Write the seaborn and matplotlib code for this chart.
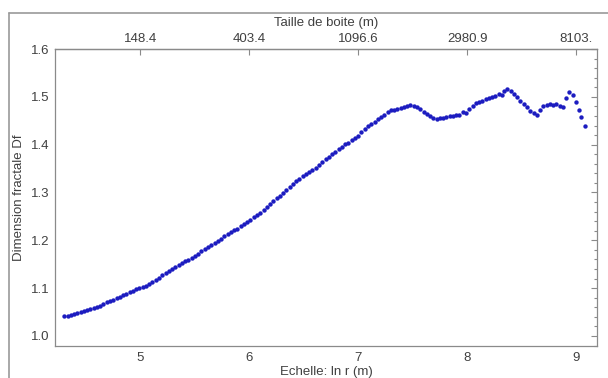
import numpy as np
import pandas as pd
import matplotlib
matplotlib.use("Agg")
import matplotlib.pyplot as plt
from matplotlib.ticker import MultipleLocator, FormatStrFormatter
from matplotlib.lines import Line2D
import seaborn as sns

# values (ln r, fractal dimension)
ln_r = [4.30, 4.33, 4.36, 4.39, 4.42, 4.45, 4.48, 4.51, 4.54, 4.57,
        4.60, 4.63, 4.66, 4.69, 4.72, 4.75, 4.78, 4.81, 4.84, 4.87,
        4.90, 4.93, 4.96, 4.99, 5.02, 5.05, 5.08, 5.11, 5.14, 5.17,
        5.20, 5.23, 5.26, 5.29, 5.32, 5.35, 5.38, 5.41, 5.44, 5.47,
        5.50, 5.53, 5.56, 5.59, 5.62, 5.65, 5.68, 5.71, 5.74, 5.77,
        5.80, 5.83, 5.86, 5.89, 5.92, 5.95, 5.98, 6.01, 6.04, 6.07,
        6.10, 6.13, 6.16, 6.19, 6.22, 6.25, 6.28, 6.31, 6.34, 6.37,
        6.40, 6.43, 6.46, 6.49, 6.52, 6.55, 6.58, 6.61, 6.64, 6.67,
        6.70, 6.73, 6.76, 6.79, 6.82, 6.85, 6.88, 6.91, 6.94, 6.97,
        7.00, 7.03, 7.06, 7.09, 7.12, 7.15, 7.18, 7.21, 7.24, 7.27,
        7.30, 7.33, 7.36, 7.39, 7.42, 7.45, 7.48, 7.51, 7.54, 7.57,
        7.60, 7.63, 7.66, 7.69, 7.72, 7.75, 7.78, 7.81, 7.84, 7.87,
        7.90, 7.93, 7.96, 7.99, 8.02, 8.05, 8.08, 8.11, 8.14, 8.17,
        8.20, 8.23, 8.26, 8.29, 8.32, 8.34, 8.37, 8.40, 8.43, 8.46,
        8.49, 8.52, 8.55, 8.58, 8.61, 8.64, 8.67, 8.70, 8.73, 8.76,
        8.79, 8.82, 8.85, 8.88, 8.91, 8.94, 8.97, 9.00, 9.03, 9.05,
        9.08]
df_vals = [1.042, 1.042, 1.044, 1.046, 1.048, 1.050, 1.052, 1.055, 1.057, 1.058,
           1.060, 1.063, 1.066, 1.070, 1.073, 1.076, 1.079, 1.082, 1.085, 1.088,
           1.091, 1.095, 1.098, 1.100, 1.102, 1.105, 1.108, 1.112, 1.117, 1.122,
           1.127, 1.131, 1.136, 1.141, 1.145, 1.149, 1.153, 1.156, 1.159, 1.163,
           1.168, 1.172, 1.177, 1.181, 1.186, 1.190, 1.194, 1.199, 1.203, 1.208,
           1.213, 1.217, 1.221, 1.224, 1.229, 1.234, 1.238, 1.243, 1.248, 1.253,
           1.258, 1.264, 1.270, 1.276, 1.282, 1.288, 1.293, 1.299, 1.305, 1.311,
           1.318, 1.323, 1.329, 1.334, 1.338, 1.343, 1.347, 1.352, 1.357, 1.363,
           1.369, 1.375, 1.380, 1.385, 1.390, 1.396, 1.401, 1.404, 1.409, 1.413,
           1.419, 1.426, 1.433, 1.438, 1.443, 1.447, 1.453, 1.458, 1.463, 1.468,
           1.472, 1.473, 1.474, 1.476, 1.478, 1.481, 1.482, 1.480, 1.478, 1.474,
           1.469, 1.465, 1.460, 1.455, 1.453, 1.455, 1.456, 1.458, 1.459, 1.460,
           1.461, 1.463, 1.468, 1.466, 1.474, 1.480, 1.487, 1.490, 1.492, 1.495,
           1.497, 1.499, 1.502, 1.506, 1.503, 1.512, 1.516, 1.512, 1.505, 1.500,
           1.492, 1.485, 1.478, 1.471, 1.467, 1.462, 1.472, 1.480, 1.482, 1.484,
           1.483, 1.484, 1.480, 1.478, 1.497, 1.510, 1.504, 1.490, 1.473, 1.457,
           1.438]

top_ticks = [5, 6, 7, 8, 9]
top_labels = ["148.4", "403.4", "1096.6", "2980.9", "8103."]

data = pd.DataFrame({"lnr": ln_r, "Df": df_vals})

sns.set_style("white")
plt.rcParams["font.family"] = ["Liberation Sans", "DejaVu Sans"]
plt.rcParams["font.size"] = 9.5

fig = plt.figure(figsize=(6.08, 3.78), dpi=100)
ax = fig.add_axes([55 / 608, 1 - 346 / 378, (597 - 55) / 608, (346 - 49) / 378])

sns.scatterplot(data=data, x="lnr", y="Df", ax=ax, s=10, color="#1c1cc0",
                linewidth=0, legend=False)

ax.set_xlim(4.215, 9.193)
ax.set_ylim(0.979, 1.6)
ax.xaxis.set_major_locator(MultipleLocator(1))
ax.xaxis.set_minor_locator(MultipleLocator(0.2))
ax.yaxis.set_major_locator(MultipleLocator(0.1))
ax.yaxis.set_minor_locator(MultipleLocator(0.02))
ax.yaxis.set_major_formatter(FormatStrFormatter("%.1f"))

grey = "#8a8a8a"
txt = "#404040"
for sp in ax.spines.values():
    sp.set_color(grey)
    sp.set_linewidth(0.9)
ax.tick_params(which="both", direction="in", color=grey, labelcolor=txt,
               right=True, top=False, width=0.8)
ax.tick_params(which="major", length=4, pad=4)
ax.tick_params(which="minor", length=2.3)

ax.set_xlabel("Echelle: ln r (m)", color=txt, labelpad=2)
ax.set_ylabel("Dimension fractale Df", color=txt, labelpad=4)

sec = ax.secondary_xaxis("top")
sec.set_xticks(top_ticks, labels=top_labels)
sec.tick_params(direction="in", length=4, color=grey, labelcolor=txt, pad=3)
sec.spines["top"].set_color(grey)
sec.spines["top"].set_linewidth(0.9)
sec.set_xlabel("Taille de boite (m)", color=txt, labelpad=5)

# outer frame of the image
fig.add_artist(Line2D([9 / 608, 9 / 608], [0, 1 - 13 / 378], color="#9a9a9a", lw=1.2))
fig.add_artist(Line2D([9 / 608, 1], [1 - 13 / 378, 1 - 13 / 378], color="#9a9a9a", lw=1.2))

fig.savefig("out.png", dpi=100)
